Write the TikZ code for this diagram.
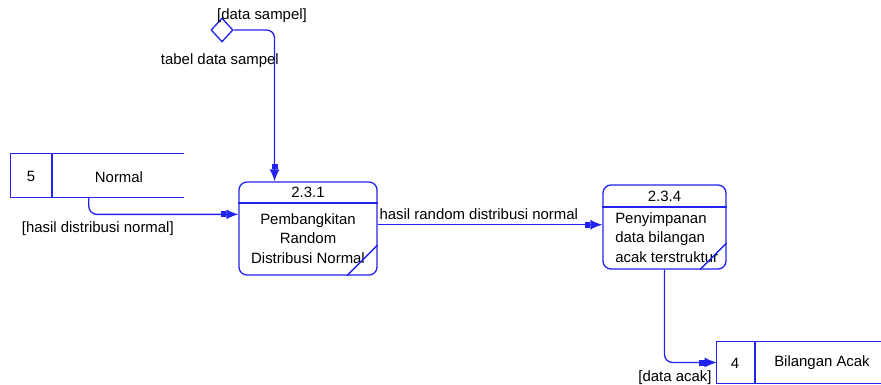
\documentclass[tikz,border=0pt]{standalone}
\usepackage{fontspec}
\setmainfont{Liberation Sans}
\usetikzlibrary{arrows.meta}
\usetikzlibrary{calc}
\usetikzlibrary{shapes.geometric}
\definecolor{dfdblue}{RGB}{35,35,240}

\begin{document}
\begin{tikzpicture}[x=0.75pt, y=-0.75pt,
		font=\fontsize{11.2}{14.6}\selectfont,
		flow/.style={draw=dfdblue, line width=1pt, rounded corners=6pt, -{Rectangle[length=4pt,width=4.5pt]Latex[length=9pt,width=7.5pt]}},
		procbox/.style={draw=dfdblue, line width=1pt, rounded corners=6pt, inner sep=0pt},
		rule/.style={draw=dfdblue, line width=1pt}]
		\useasboundingbox (0,0) rectangle (881,385);

		% processes
		\node[procbox, minimum width=103.5pt, minimum height=69.75pt] (gen) at (308,228.5) {};
		\node (genid) at (308,192) {2.3.1};
		\node[align=center] (gentxt) at (308,238.5) {Pembangkitan\\Random\\Distribusi Normal};
		\draw[rule] (gen.west |- 0,203) -- (gen.east |- 0,203);
		\draw[rule] (gen.east |- 0,245) -- (gen.south -| 347,0);

		\node[procbox, minimum width=92.25pt, minimum height=63pt] (keep) at (664.5,227) {};
		\node (keepid) at (664.5,196) {2.3.4};
		\node[align=left, anchor=west, inner sep=0pt] (keeptxt) at (615,237.5) {Penyimpanan\\data bilangan\\acak terstruktur};
		\draw[rule] (keep.west |- 0,207) -- (keep.east |- 0,207);
		\draw[rule] (keep.east |- 0,243) -- (keep.south -| 700,0);

		% data stores
		\node[minimum width=129.75pt, minimum height=32.25pt] (norm) at (97.5,175.5) {};
		\draw[rule] (norm.north east) -- (norm.north west) -- (norm.south west) -- (norm.south east);
		\draw[rule] (norm.north -| 52,0) -- (norm.south -| 52,0);
		\node (normid) at (31,176) {5};
		\node (normtxt) at (119,177) {Normal};

		\node[minimum width=123pt, minimum height=30.75pt] (acak) at (799,362.5) {};
		\draw[rule] (acak.north east) -- (acak.north west) -- (acak.south west) -- (acak.south east);
		\draw[rule] (acak.north -| 755,0) -- (acak.south -| 755,0);
		\node (acakid) at (735,363) {4};
		\node (acaktxt) at (822,363) {Bilangan Acak};

		% external source
		\node[diamond, draw=dfdblue, line width=1pt, minimum width=16.5pt, minimum height=18pt, inner sep=0pt] (smp) at (222,30) {};
		\node (smplbl) at (262,16) {[data sampel]};

		% flows
		\draw[flow] (smp.east) -| node[pos=0.6, xshift=-41pt] {tabel data sampel} ($(gen.north west)!0.26!(gen.north east)$);
		\draw[flow] ($(norm.south west)!0.45!(norm.south east)$) |- node[pos=0.53, below, yshift=-2pt] {[hasil distribusi normal]} ($(gen.north west)!0.35!(gen.south west)$);
		\draw[flow] ($(gen.north east)!0.46!(gen.south east)$) coordinate (genout) -- node[pos=0.45, above] {hasil random distribusi normal} (genout -| keep.west);
		\draw[flow] (keep.south) |- node[pos=0.6, below, yshift=-2pt] {[data acak]} (acak.west);
	\end{tikzpicture}
\end{document}
